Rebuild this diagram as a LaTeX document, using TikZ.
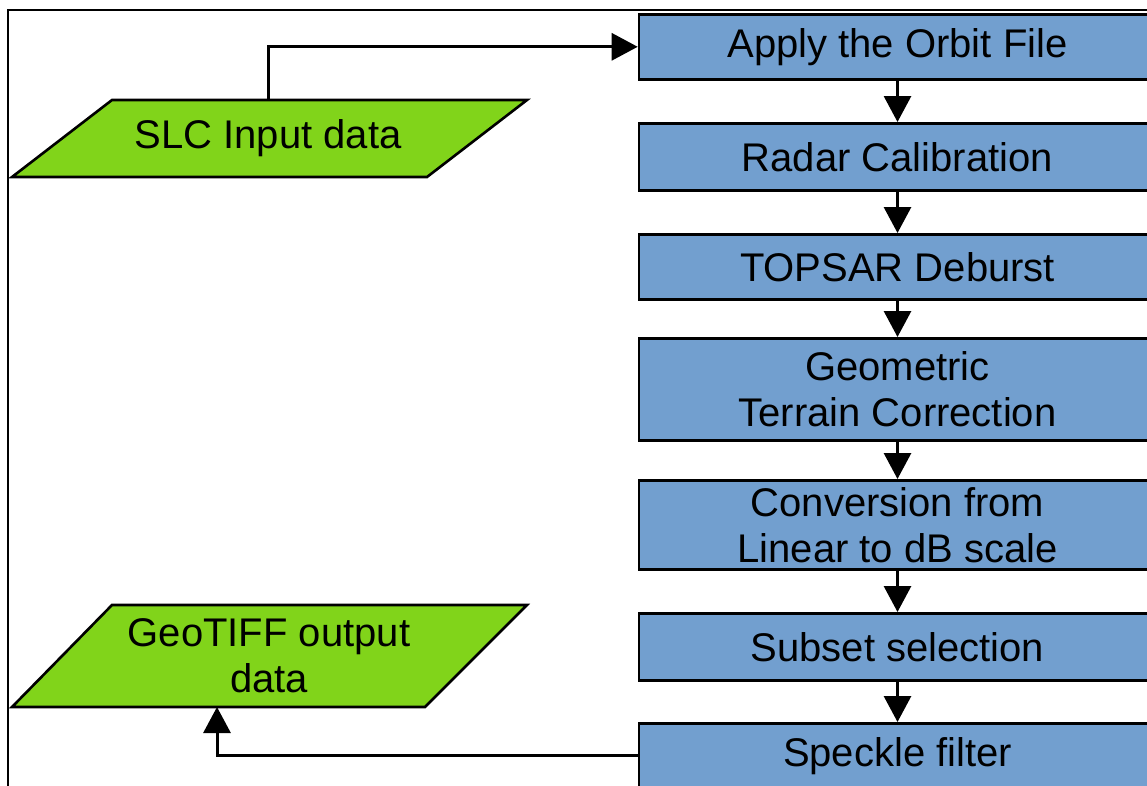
\documentclass[tikz,border=0pt]{standalone}
\usepackage{fontspec}
\setmainfont{Liberation Sans}
\usetikzlibrary{arrows.meta}
\definecolor{stepblue}{HTML}{729FCF}
\definecolor{iogreen}{HTML}{81D41A}
\begin{document}
\begin{tikzpicture}[x=1pt,y=-1pt,
  stepbox/.style={draw=black, fill=stepblue, line width=2.6pt, minimum width=517pt,
    inner sep=0pt, align=center, anchor=north,
    font=\fontsize{40}{46}\selectfont},
  iobox/.style={draw=black, fill=iogreen, line width=2.6pt, line join=miter},
  iotext/.style={inner sep=0pt, align=center, font=\fontsize{40}{46}\selectfont},
  flow/.style={line width=3pt, -{Triangle[width=27pt,length=26pt]}},
  frameline/.style={line width=2pt}]
\useasboundingbox (0,0) rectangle (1147,785);

% outer frame
\draw[frameline] (8,800) -- (8,9.5) -- (1160,9.5);

% processing chain
\node[stepbox, minimum height=65pt]  (orbit)  at (897.5,13)  {Apply the Orbit File};
\node[stepbox, minimum height=67pt]  (calib)  at (897.5,122) {Radar Calibration};
\node[stepbox, minimum height=65pt]  (deb)    at (897.5,233) {TOPSAR Deburst};
\node[stepbox, minimum height=102pt] (terrain) at (897.5,337) {Geometric\\Terrain Correction};
\node[stepbox, minimum height=89pt]  (conv)   at (897.5,479) {Conversion from\\Linear to dB scale};
\node[stepbox, minimum height=67pt]  (subset) at (897.5,612) {Subset selection};
\node[stepbox, minimum height=66pt]  (speck)  at (897.5,722) {Speckle filter};

% input / output data
\draw[iobox] (12,177) -- (112,100) -- (527,100) -- (427,177) -- cycle;
\node[iotext] (slc) at (268,138.5) {SLC Input data};
\draw[iobox] (12,707) -- (112,605) -- (527,605) -- (425,707) -- cycle;
\node[iotext] (geo) at (269,656) {GeoTIFF output\\data};
\coordinate (slcout) at (268,100);
\coordinate (geoin) at (217,707);

% connectors
\draw[flow] (slcout) |- (orbit.west);
\draw[flow] (orbit) -- (calib);
\draw[flow] (calib) -- (deb);
\draw[flow] (deb) -- (terrain);
\draw[flow] (terrain) -- (conv);
\draw[flow] (conv) -- (subset);
\draw[flow] (subset) -- (speck);
\draw[flow] (speck.west |- 0,755) -| (geoin);
\end{tikzpicture}
\end{document}
